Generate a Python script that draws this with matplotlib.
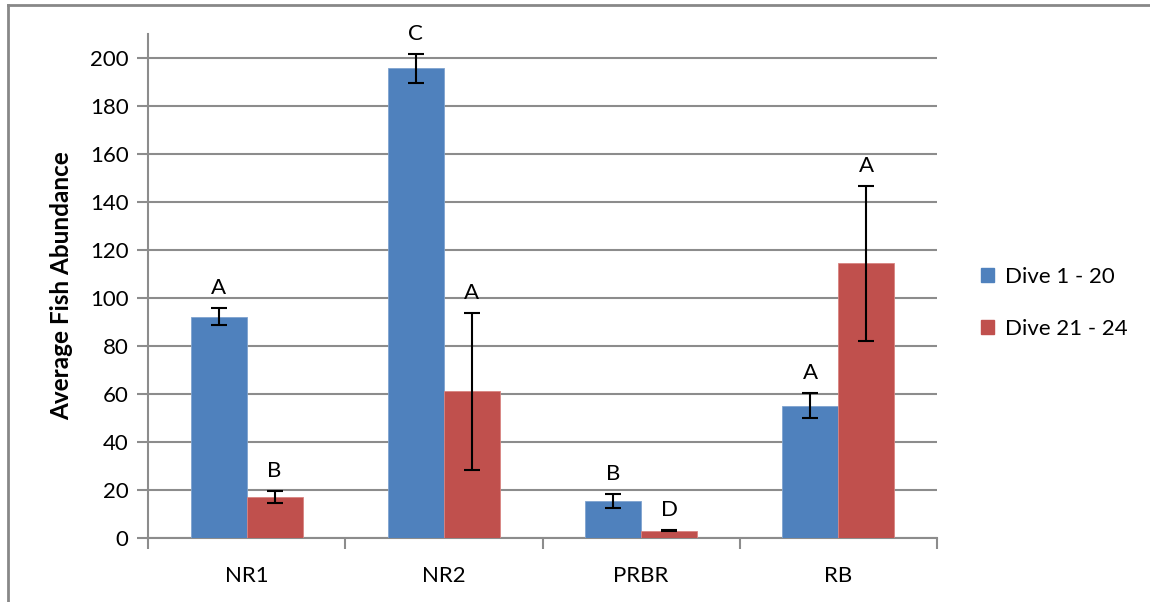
import matplotlib.pyplot as plt
import numpy as np
from matplotlib.lines import Line2D
from matplotlib.patches import Patch

plt.rcParams['font.family'] = ['Lato', 'DejaVu Sans']

sites = ['NR1', 'NR2', 'PRBR', 'RB']
series = ['Dive 1 - 20', 'Dive 21 - 24']

dive_1_20 = [92.2, 195.7, 15.6, 55.1]
dive_1_20_err = [3.6, 6.0, 2.9, 5.3]
dive_1_20_letters = ['A', 'C', 'B', 'A']

dive_21_24 = [17.1, 61.1, 3.1, 114.4]
dive_21_24_err = [2.4, 32.7, 0.3, 32.2]
dive_21_24_letters = ['B', 'A', 'D', 'A']

blue = '#4F81BD'
red = '#C0504D'
grid_col = '#8C8C8C'

fig = plt.figure(figsize=(11.5, 6.02), dpi=100)
ax = fig.add_axes([148/1150, 64/602, (937-148)/1150, (538-34)/602])

x = np.arange(len(sites))
w = 0.284

ax.bar(x - w/2, dive_1_20, w, color=blue, edgecolor='#7FA3CF', linewidth=0.6,
       yerr=dive_1_20_err, error_kw=dict(ecolor='black', elinewidth=1.5, capsize=5.5, capthick=1.5),
       zorder=3, label=series[0])
ax.bar(x + w/2, dive_21_24, w, color=red, edgecolor='#D88481', linewidth=0.6,
       yerr=dive_21_24_err, error_kw=dict(ecolor='black', elinewidth=1.5, capsize=5.5, capthick=1.5),
       zorder=3, label=series[1])

for i in range(len(sites)):
    ax.annotate(dive_1_20_letters[i], (x[i] - w/2, dive_1_20[i] + dive_1_20_err[i]),
                xytext=(0, 7), textcoords='offset points', ha='center', va='bottom', fontsize=16)
    ax.annotate(dive_21_24_letters[i], (x[i] + w/2, dive_21_24[i] + dive_21_24_err[i]),
                xytext=(0, 7), textcoords='offset points', ha='center', va='bottom', fontsize=16)

ax.set_xlim(-0.5, len(sites) - 0.5)
ax.set_ylim(0, 210)
ax.set_yticks(np.arange(0, 201, 20))
ax.set_xticks(x)
ax.set_xticklabels(sites)
ax.set_xticks(np.arange(-0.5, len(sites), 1), minor=True)
ax.tick_params(axis='x', which='major', length=0, pad=20, labelsize=16)
ax.tick_params(axis='x', which='minor', length=8, width=1.5, color=grid_col)
ax.tick_params(axis='y', length=8, width=1.5, color=grid_col, labelsize=16, pad=6)

ax.yaxis.grid(True, color=grid_col, linewidth=1.5, zorder=0)
ax.set_axisbelow(True)
for s in ['top', 'right']:
    ax.spines[s].set_visible(False)
for s in ['left', 'bottom']:
    ax.spines[s].set_color(grid_col)
    ax.spines[s].set_linewidth(1.5)

ax.set_ylabel('Average Fish Abundance', fontsize=17.5, fontweight='bold', labelpad=12)

handles = [Patch(color=blue), Patch(color=red)]
fig.legend(handles, series, loc='center left', bbox_to_anchor=(961/1150, 1 - 303/602),
           frameon=False, fontsize=16, handlelength=0.6, handleheight=0.6,
           labelspacing=1.45, handletextpad=0.5)

fig.add_artist(Line2D([8/1150, 1], [1 - 5/602, 1 - 5/602], color='#888888', linewidth=2))
fig.add_artist(Line2D([8/1150, 8/1150], [0, 1 - 5/602], color='#888888', linewidth=2))

plt.savefig('out.png')
